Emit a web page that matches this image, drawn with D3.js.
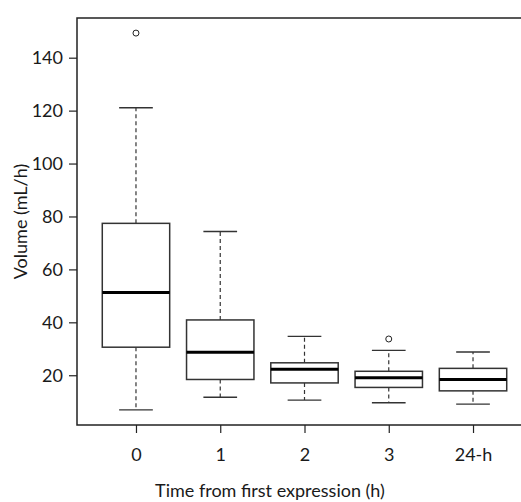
<!DOCTYPE html>
<html>
<head>
<meta charset="utf-8">
<script src="https://cdn.jsdelivr.net/npm/d3@7"></script>
<style>
  body { margin: 0; background: #fff; }
  text { font-family: Lato, "Open Sans", sans-serif; fill: #1a1a1a; }
</style>
</head>
<body>
<svg id="chart" width="521" height="502"></svg>
<script>
// values
var groups   = ["0", "1", "2", "3", "24-h"];
var lowWhisk = [6.9, 11.7, 10.6, 9.6, 9.1];
var q1       = [30.6, 18.4, 17.1, 15.4, 14.1];
var medians  = [51.3, 28.7, 22.3, 19.1, 18.4];
var q3       = [77.4, 40.9, 24.7, 21.5, 22.6];
var upWhisk  = [121.1, 74.3, 34.7, 29.4, 28.8];
var outliers = [["0", 149.3], ["3", 33.7]];
var yTicks   = [20, 40, 60, 80, 100, 120, 140];

var svg = d3.select("#chart"),
    margin = {top: 18, left: 77, bottom: 425, right: 532};

var x = d3.scalePoint()
    .domain(groups)
    .range([margin.left, margin.right])
    .padding(0.7);

var y = d3.scaleLinear()
    .domain([1.2, 155])
    .range([margin.bottom, margin.top]);

var boxW = x.step() * 0.8,
    capW = boxW / 2;

var data = groups.map(function(g, i) {
    return {g: g, lo: lowWhisk[i], q1: q1[i], med: medians[i], q3: q3[i], hi: upWhisk[i]};
});

// frame
svg.append("rect")
    .attr("x", margin.left)
    .attr("y", margin.top)
    .attr("width", margin.right - margin.left)
    .attr("height", margin.bottom - margin.top)
    .attr("fill", "none")
    .attr("stroke", "#222")
    .attr("stroke-width", 1.5);

// axes
var yAxis = svg.append("g")
    .attr("transform", "translate(" + margin.left + ",0)")
    .call(d3.axisLeft(y).tickValues(yTicks).tickSize(8).tickPadding(6));
var xAxis = svg.append("g")
    .attr("transform", "translate(0," + margin.bottom + ")")
    .call(d3.axisBottom(x).tickSize(8).tickPadding(15));
[yAxis, xAxis].forEach(function(a) {
    a.select(".domain").remove();
    a.selectAll(".tick line").attr("stroke", "#222").attr("stroke-width", 1.2);
    a.selectAll(".tick text").attr("font-size", 18).attr("fill", "#1a1a1a")
        .style("font-family", "Lato, 'Open Sans', sans-serif");
});

var box = svg.append("g").selectAll("g")
    .data(data)
    .enter().append("g");

// whiskers
box.append("line")
    .attr("x1", function(d) { return x(d.g); })
    .attr("x2", function(d) { return x(d.g); })
    .attr("y1", function(d) { return y(d.q3); })
    .attr("y2", function(d) { return y(d.hi); })
    .attr("stroke", "#333").attr("stroke-width", 1.2)
    .attr("stroke-dasharray", "4,3");
box.append("line")
    .attr("x1", function(d) { return x(d.g); })
    .attr("x2", function(d) { return x(d.g); })
    .attr("y1", function(d) { return y(d.q1); })
    .attr("y2", function(d) { return y(d.lo); })
    .attr("stroke", "#333").attr("stroke-width", 1.2)
    .attr("stroke-dasharray", "4,3");

// caps
["lo", "hi"].forEach(function(k) {
    box.append("line")
        .attr("x1", function(d) { return x(d.g) - capW / 2; })
        .attr("x2", function(d) { return x(d.g) + capW / 2; })
        .attr("y1", function(d) { return y(d[k]); })
        .attr("y2", function(d) { return y(d[k]); })
        .attr("stroke", "#333").attr("stroke-width", 1.4);
});

// boxes
box.append("rect")
    .attr("x", function(d) { return x(d.g) - boxW / 2; })
    .attr("y", function(d) { return y(d.q3); })
    .attr("width", boxW)
    .attr("height", function(d) { return y(d.q1) - y(d.q3); })
    .attr("fill", "#fff")
    .attr("stroke", "#333")
    .attr("stroke-width", 1.5);

// medians
box.append("line")
    .attr("x1", function(d) { return x(d.g) - boxW / 2; })
    .attr("x2", function(d) { return x(d.g) + boxW / 2; })
    .attr("y1", function(d) { return y(d.med); })
    .attr("y2", function(d) { return y(d.med); })
    .attr("stroke", "#000").attr("stroke-width", 3);

// outliers
svg.append("g").selectAll("circle")
    .data(outliers)
    .enter().append("circle")
    .attr("cx", function(d) { return x(d[0]); })
    .attr("cy", function(d) { return y(d[1]); })
    .attr("r", 3)
    .attr("fill", "none")
    .attr("stroke", "#222")
    .attr("stroke-width", 1);

// axis titles
svg.append("text")
    .attr("x", 270)
    .attr("y", 497)
    .attr("text-anchor", "middle")
    .attr("font-size", 18)
    .text("Time from first expression (h)");

svg.append("text")
    .attr("transform", "translate(27," + (margin.top + margin.bottom) / 2 + ") rotate(-90)")
    .attr("text-anchor", "middle")
    .attr("font-size", 18)
    .text("Volume (mL/h)");
</script>
</body>
</html>
